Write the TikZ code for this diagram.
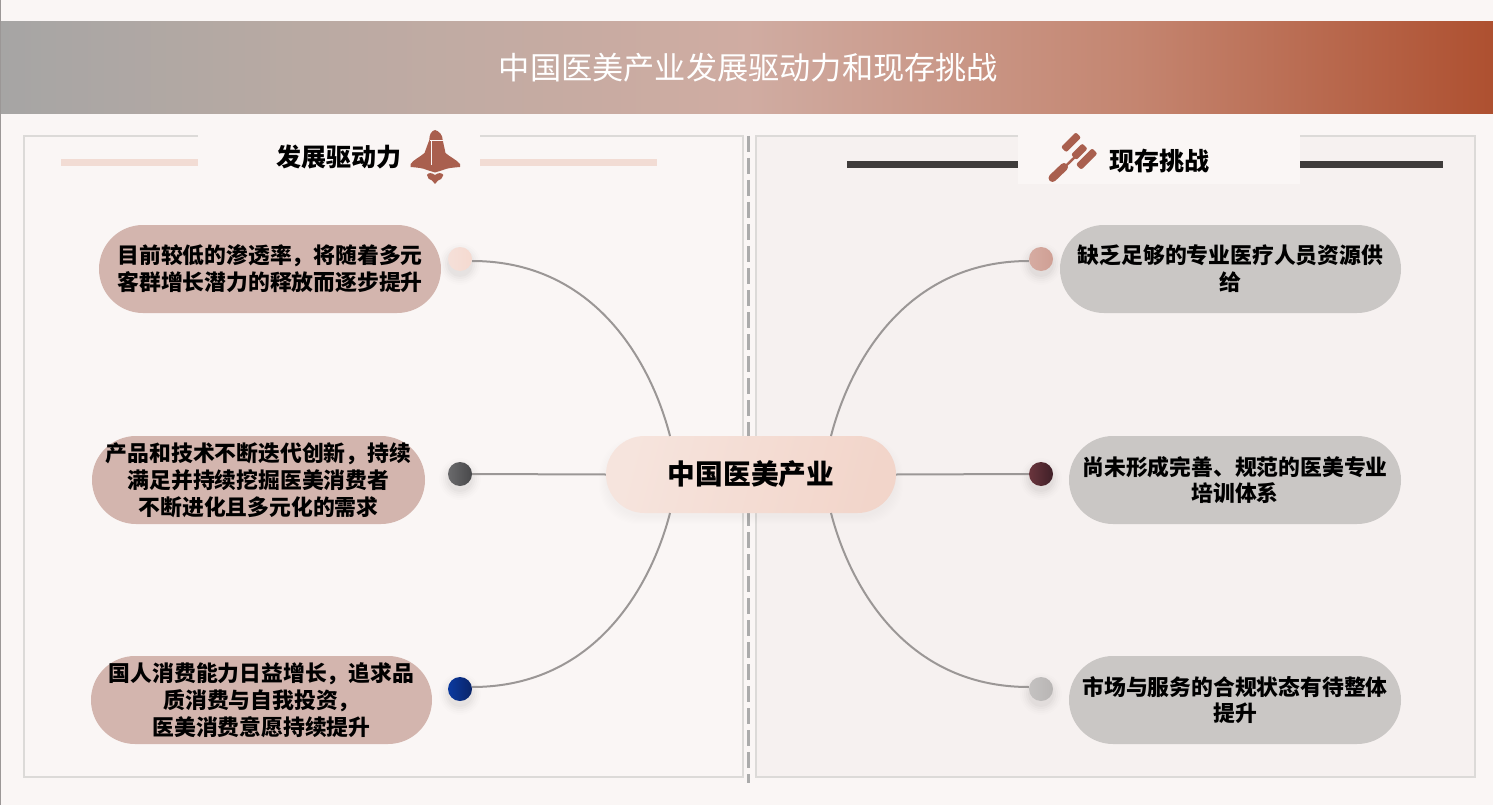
\documentclass[tikz,border=0pt]{standalone}
\usepackage{fontspec}
\setmainfont{Noto Sans CJK SC}
\usetikzlibrary{calc}
\definecolor{pagebg}{HTML}{FAF6F5}
\definecolor{rightbg}{HTML}{F6F1F0}
\definecolor{framec}{HTML}{DCDAD8}
\definecolor{barpink}{HTML}{F2DCD4}
\definecolor{bardark}{HTML}{3F3C3B}
\definecolor{pillpink}{HTML}{D3B5AE}
\definecolor{pillgrey}{HTML}{CAC7C5}
\definecolor{iconc}{HTML}{A95F4E}
\definecolor{linkc}{HTML}{9B9796}
\definecolor{dashc}{HTML}{ABABAB}
\definecolor{hdrA}{HTML}{A6A5A4}
\definecolor{hdrB}{HTML}{B9AAA3}
\definecolor{hdrC}{HTML}{D0ACA2}
\definecolor{hdrD}{HTML}{C48570}
\definecolor{hdrE}{HTML}{AE5030}
\definecolor{doA}{HTML}{F5E0D9}\definecolor{doB}{HTML}{F5DAD0}
\definecolor{dtA}{HTML}{6A6A6C}\definecolor{dtB}{HTML}{48484A}
\definecolor{dhA}{HTML}{0B3AA0}\definecolor{dhB}{HTML}{0A2468}
\definecolor{dfA}{HTML}{D6ACA2}\definecolor{dfB}{HTML}{CF9F94}
\definecolor{dvA}{HTML}{6A353D}\definecolor{dvB}{HTML}{3F1F27}
\definecolor{dsA}{HTML}{C4C2C1}\definecolor{dsB}{HTML}{B8B5B4}
\definecolor{hubA}{HTML}{F6E4DD}\definecolor{hubB}{HTML}{F2D5CA}
\pgfdeclarehorizontalshading{hdrshade}{100bp}{
  color(0bp)=(hdrA); color(25bp)=(hdrA); color(35bp)=(hdrB); color(50bp)=(hdrC);
  color(63bp)=(hdrD); color(75bp)=(hdrE); color(100bp)=(hdrE)}
\tikzset{
  panel/.style={draw=framec,line width=2pt},
  pill/.style={rectangle,rounded corners=44pt,minimum height=88pt,inner sep=0pt,align=center,
    font=\fontsize{21.8pt}{26.8pt}\selectfont\bfseries,text=black},
  pillL/.style={pill,fill=pillpink},
  pillR/.style={pill,fill=pillgrey},
  dotn/.style={circle,minimum size=24pt,inner sep=0pt,shading=axis,shading angle=135},
  link/.style={draw=linkc,line width=2pt},
  headtxt/.style={font=\fontsize{25pt}{28pt}\selectfont\bfseries,text=black,inner sep=0pt},
  gavelbar/.style={rectangle,fill=iconc,rounded corners=2pt,minimum height=7.5pt,inner sep=0pt,rotate=45},
}
\newcommand{\softshadow}[3]{%
  \foreach \rr/\oo in {9/.008,7/.012,5/.016,3/.02,1/.025}{%
    \fill[black,opacity=\oo] (#1,#2+5) circle[radius=#3+\rr];}}
\begin{document}
\begin{tikzpicture}[x=1pt,y=-1pt]
\useasboundingbox (0,0) rectangle (1493,805);
\fill[pagebg] (0,0) rectangle (1493,805);
\fill[linkc] (0,0) rectangle (1,805);
% header
\shade[shading=hdrshade] (1,21.5) rectangle (1493,114);
\node[text=white,font=\fontsize{31.2pt}{34pt}\selectfont,inner sep=0pt] (title) at (748.5,67.5) {中国医美产业发展驱动力和现存挑战};
% panels
\draw[panel] (24,136) rectangle (743,777);
\draw[panel,fill=rightbg] (756,136) rectangle (1475,777);
\draw[dashc,line width=2.6pt,dash pattern=on 16pt off 6pt] (748.2,136) -- (748.2,783);
% section heads
\fill[barpink] (61,159) rectangle (657,166);
\fill[pagebg] (198,131) rectangle (480,184);
\fill[bardark] (847,161) rectangle (1443,168);
\fill[pagebg] (1018,135) rectangle (1300,184);
\node[headtxt] (headL) at (339,157) {发展驱动力};
\node[headtxt] (headR) at (1159,161) {现存挑战};
% rocket
\fill[iconc] (435,130) .. controls (431,131) and (429.3,135) .. (429.3,140)
  -- (424.5,153)
  .. controls (420,157) and (413,160) .. (410.7,164) -- (410.7,167)
  .. controls (417,167.5) and (423,168) .. (427,170) -- (435,172.5) -- (443,170)
  .. controls (447,168) and (454,167.5) .. (460,167) -- (460,164)
  .. controls (457,160) and (450,157) .. (445.5,153)
  -- (442.7,140)
  .. controls (442.7,135) and (439,131) .. (435,130) -- cycle;
\fill[iconc] (435,175) .. controls (432,172.5) and (428,172.5) .. (427,175)
  .. controls (427.5,178) and (429.5,180.5) .. (432,180.5) -- (435,184) -- (438,180.5)
  .. controls (440.5,180.5) and (442.5,178) .. (443.3,175)
  .. controls (442,172.5) and (438,172.5) .. (435,175) -- cycle;
\draw[pagebg,line width=.8pt] (429.5,140.5) -- (443,140.5);
\draw[pagebg,line width=.8pt] (431.5,140.5) -- (431.5,165);
% gavel
\node[gavelbar,minimum width=21pt] (gav1) at (1071,142.3) {};
\node[gavelbar,minimum width=16pt] (gav2) at (1079.3,151.7) {};
\node[gavelbar,minimum width=23pt] (gav3) at (1086.7,159) {};
\draw[iconc,line width=2.4pt] (1065,166.7) -- (1076,156);
\draw[iconc,line width=8pt,line cap=round] (1052.5,178) -- (1064,167);
% shadows
\foreach \yy in {0,...,7}{\fill[black,opacity=.004,rounded corners=38pt] (606-\yy,436+8-\yy) rectangle (896+\yy,513+4+\yy);}
\softshadow{460}{259}{12}
\softshadow{460}{474}{12}
\softshadow{460}{689}{12}
\softshadow{1041}{259}{12}
\softshadow{1041}{474}{12}
\softshadow{1041}{689}{12}
% dots
\node[dotn,left color=doA,right color=doB] (d1) at (460,259) {};
\node[dotn,left color=dtA,right color=dtB] (d2) at (460,474) {};
\node[dotn,left color=dhA,right color=dhB] (d3) at (460,689) {};
\node[dotn,left color=dfA,right color=dfB] (d4) at (1041,259) {};
\node[dotn,left color=dvA,right color=dvB] (d5) at (1041,474) {};
\node[dotn,left color=dsA,right color=dsB] (d6) at (1041,689) {};
% hub
\node[rectangle,rounded corners=38.5pt,minimum width=290pt,minimum height=77pt,inner sep=0pt,
  left color=hubA,right color=hubB,shading angle=75,
  font=\fontsize{27.7pt}{30pt}\selectfont\bfseries] (hub) at (751,474.5) {中国医美产业};
\coordinate (hubLT) at (670,436);
\coordinate (hubLB) at (670,513);
\coordinate (hubRT) at (831,436);
\coordinate (hubRB) at (831,513);
% connectors
\draw[link] ($(d1.east)+(0,2)$) .. controls ($(d1.east)+(125,2)$) and (652,366) .. (hubLT);
\draw[link] (d2.east) -- (hub.west);
\draw[link] ($(d3.east)+(0,-2)$) .. controls ($(d3.east)+(125,-2)$) and (652,583) .. (hubLB);
\draw[link] ($(d4.west)+(0,2)$) .. controls ($(d4.west)+(-125,2)$) and (849,366) .. (hubRT);
\draw[link] (d5.west) -- (hub.east);
\draw[link] ($(d6.west)+(0,-2)$) .. controls ($(d6.west)+(-125,-2)$) and (849,583) .. (hubRB);
% pills
\node[pillL,minimum width=342pt] (p1) at (270,269) {目前较低的渗透率，将随着多元\\客群增长潜力的释放而逐步提升};
\node[pillL,minimum width=333pt] (p2) at (258.5,480) {产品和技术不断迭代创新，持续\\满足并持续挖掘医美消费者\\不断进化且多元化的需求};
\node[pillL,minimum width=341pt] (p3) at (261.5,700) {国人消费能力日益增长，追求品\\质消费与自我投资，\\医美消费意愿持续提升};
\node[pillR,minimum width=341pt] (p4) at (1230.5,269) {缺乏足够的专业医疗人员资源供\\给};
\node[pillR,minimum width=332pt] (p5) at (1235,480) {尚未形成完善、规范的医美专业\\培训体系};
\node[pillR,minimum width=332pt] (p6) at (1235,700) {市场与服务的合规状态有待整体\\提升};
\end{tikzpicture}
\end{document}
